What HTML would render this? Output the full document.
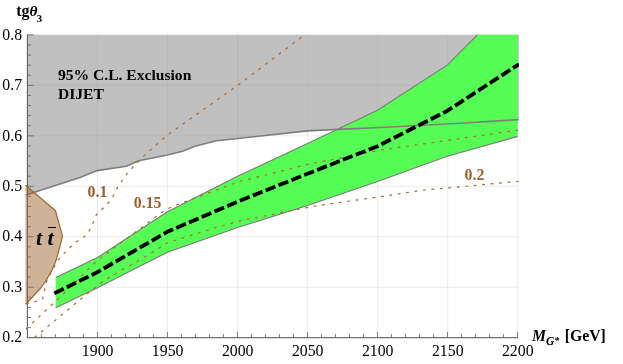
<!DOCTYPE html>
<html><head><meta charset="utf-8"><title>plot</title>
<style>
html,body{margin:0;padding:0;background:#fff;}
body{width:623px;height:364px;position:relative;overflow:hidden;font-family:"Liberation Serif",serif;}
.t{position:absolute;white-space:nowrap;font-family:"Liberation Serif",serif;font-size:15.8px;line-height:1;color:#000;}
.yl{left:0;width:22.1px;text-align:right;}
.xl{width:40px;text-align:center;top:342.8px;}
.b{font-weight:bold;}
.br{color:#9c5f2b;font-weight:bold;font-size:15.8px;}
</style></head><body>
<svg width="623" height="364" viewBox="0 0 623 364" style="position:absolute;left:0;top:0">
<defs><clipPath id="c"><rect x="24" y="34.40" width="494.90" height="303.80"/></clipPath></defs>
<g clip-path="url(#c)">
<polygon points="27.00,34.40 27.00,195.20 80.00,177.50 97.20,170.60 126.25,166.20 138.75,160.70 167.50,155.00 182.50,151.25 195.00,146.25 216.25,140.75 235.75,138.75 307.50,130.90 337.50,129.40 385.75,127.30 463.80,123.00 518.90,119.60 518.90,34.40" fill="#c0c0c0"/>
<line x1="97.53" x2="97.53" y1="34.40" y2="337.70" stroke="rgba(140,140,140,0.17)" stroke-width="1"/>
<line x1="167.55" x2="167.55" y1="34.40" y2="337.70" stroke="rgba(140,140,140,0.17)" stroke-width="1"/>
<line x1="237.58" x2="237.58" y1="34.40" y2="337.70" stroke="rgba(140,140,140,0.17)" stroke-width="1"/>
<line x1="307.60" x2="307.60" y1="34.40" y2="337.70" stroke="rgba(140,140,140,0.17)" stroke-width="1"/>
<line x1="377.62" x2="377.62" y1="34.40" y2="337.70" stroke="rgba(140,140,140,0.17)" stroke-width="1"/>
<line x1="447.65" x2="447.65" y1="34.40" y2="337.70" stroke="rgba(140,140,140,0.17)" stroke-width="1"/>
<line x1="517.68" x2="517.68" y1="34.40" y2="337.70" stroke="rgba(140,140,140,0.17)" stroke-width="1"/>
<line x1="27.40" x2="517.70" y1="287.23" y2="287.23" stroke="rgba(140,140,140,0.17)" stroke-width="1"/>
<line x1="27.40" x2="517.70" y1="236.76" y2="236.76" stroke="rgba(140,140,140,0.17)" stroke-width="1"/>
<line x1="27.40" x2="517.70" y1="186.29" y2="186.29" stroke="rgba(140,140,140,0.17)" stroke-width="1"/>
<line x1="27.40" x2="517.70" y1="135.82" y2="135.82" stroke="rgba(140,140,140,0.17)" stroke-width="1"/>
<line x1="27.40" x2="517.70" y1="85.35" y2="85.35" stroke="rgba(140,140,140,0.17)" stroke-width="1"/>
<polygon points="55.70,277.60 97.50,257.50 167.50,211.70 237.50,176.30 307.50,143.50 377.50,110.30 447.20,65.10 477.90,34.40 517.70,34.40 517.70,136.40 447.20,156.20 377.50,181.50 307.50,205.40 237.50,227.60 167.50,252.15 97.50,287.80 55.70,307.80" fill="#55fd55"/>
<polyline points="55.70,277.60 97.50,257.50 167.50,211.70 237.50,176.30 307.50,143.50 377.50,110.30 447.20,65.10 477.90,34.40" fill="none" stroke="#7a7a7a" stroke-width="1.1"/>
<polyline points="55.70,307.80 97.50,287.80 167.50,252.15 237.50,227.60 307.50,205.40 377.50,181.50 447.20,156.20 517.70,136.40" fill="none" stroke="#7a7a7a" stroke-width="1.1"/>
<polyline points="26.00,195.00 80.00,177.50 97.20,170.60 126.25,166.20 138.75,160.70 167.50,155.00 182.50,151.25 195.00,146.25 216.25,140.75 235.75,138.75 307.50,130.90 337.50,129.40 385.75,127.30 463.80,123.00 518.90,119.60" fill="none" stroke="#7e7e7e" stroke-width="1.6"/>
</g>
</svg>
<svg width="623" height="364" viewBox="0 0 623 364" style="position:absolute;left:0;top:0">
<defs><clipPath id="c2"><rect x="24" y="34.40" width="494.90" height="303.80"/></clipPath></defs>
<line x1="27.40" x2="27.40" y1="34.45" y2="338.20" stroke="#5e5e5e" stroke-width="1.1"/>
<line x1="27.00" x2="518.10" y1="337.70" y2="337.70" stroke="#747474" stroke-width="1.3"/>
<line x1="27.40" x2="31.00" y1="327.61" y2="327.61" stroke="#5e5e5e" stroke-width="0.8"/>
<line x1="27.40" x2="31.00" y1="317.51" y2="317.51" stroke="#5e5e5e" stroke-width="0.8"/>
<line x1="27.40" x2="31.00" y1="307.42" y2="307.42" stroke="#5e5e5e" stroke-width="0.8"/>
<line x1="27.40" x2="31.00" y1="297.32" y2="297.32" stroke="#5e5e5e" stroke-width="0.8"/>
<line x1="27.40" x2="33.70" y1="287.23" y2="287.23" stroke="#5e5e5e" stroke-width="0.8"/>
<line x1="27.40" x2="31.00" y1="277.14" y2="277.14" stroke="#5e5e5e" stroke-width="0.8"/>
<line x1="27.40" x2="31.00" y1="267.04" y2="267.04" stroke="#5e5e5e" stroke-width="0.8"/>
<line x1="27.40" x2="31.00" y1="256.95" y2="256.95" stroke="#5e5e5e" stroke-width="0.8"/>
<line x1="27.40" x2="31.00" y1="246.85" y2="246.85" stroke="#5e5e5e" stroke-width="0.8"/>
<line x1="27.40" x2="33.70" y1="236.76" y2="236.76" stroke="#5e5e5e" stroke-width="0.8"/>
<line x1="27.40" x2="31.00" y1="226.67" y2="226.67" stroke="#5e5e5e" stroke-width="0.8"/>
<line x1="27.40" x2="31.00" y1="216.57" y2="216.57" stroke="#5e5e5e" stroke-width="0.8"/>
<line x1="27.40" x2="31.00" y1="206.48" y2="206.48" stroke="#5e5e5e" stroke-width="0.8"/>
<line x1="27.40" x2="31.00" y1="196.38" y2="196.38" stroke="#5e5e5e" stroke-width="0.8"/>
<line x1="27.40" x2="33.70" y1="186.29" y2="186.29" stroke="#5e5e5e" stroke-width="0.8"/>
<line x1="27.40" x2="31.00" y1="176.20" y2="176.20" stroke="#5e5e5e" stroke-width="0.8"/>
<line x1="27.40" x2="31.00" y1="166.10" y2="166.10" stroke="#5e5e5e" stroke-width="0.8"/>
<line x1="27.40" x2="31.00" y1="156.01" y2="156.01" stroke="#5e5e5e" stroke-width="0.8"/>
<line x1="27.40" x2="31.00" y1="145.91" y2="145.91" stroke="#5e5e5e" stroke-width="0.8"/>
<line x1="27.40" x2="33.70" y1="135.82" y2="135.82" stroke="#5e5e5e" stroke-width="0.8"/>
<line x1="27.40" x2="31.00" y1="125.73" y2="125.73" stroke="#5e5e5e" stroke-width="0.8"/>
<line x1="27.40" x2="31.00" y1="115.63" y2="115.63" stroke="#5e5e5e" stroke-width="0.8"/>
<line x1="27.40" x2="31.00" y1="105.54" y2="105.54" stroke="#5e5e5e" stroke-width="0.8"/>
<line x1="27.40" x2="31.00" y1="95.44" y2="95.44" stroke="#5e5e5e" stroke-width="0.8"/>
<line x1="27.40" x2="33.70" y1="85.35" y2="85.35" stroke="#5e5e5e" stroke-width="0.8"/>
<line x1="27.40" x2="31.00" y1="75.26" y2="75.26" stroke="#5e5e5e" stroke-width="0.8"/>
<line x1="27.40" x2="31.00" y1="65.16" y2="65.16" stroke="#5e5e5e" stroke-width="0.8"/>
<line x1="27.40" x2="31.00" y1="55.07" y2="55.07" stroke="#5e5e5e" stroke-width="0.8"/>
<line x1="27.40" x2="31.00" y1="44.97" y2="44.97" stroke="#5e5e5e" stroke-width="0.8"/>
<line x1="27.40" x2="33.70" y1="34.88" y2="34.88" stroke="#5e5e5e" stroke-width="0.8"/>
<line x1="41.41" x2="41.41" y1="337.70" y2="334.20" stroke="#6c6c6c" stroke-width="0.9"/>
<line x1="55.41" x2="55.41" y1="337.70" y2="334.20" stroke="#6c6c6c" stroke-width="0.9"/>
<line x1="69.41" x2="69.41" y1="337.70" y2="334.20" stroke="#6c6c6c" stroke-width="0.9"/>
<line x1="83.42" x2="83.42" y1="337.70" y2="334.20" stroke="#6c6c6c" stroke-width="0.9"/>
<line x1="97.43" x2="97.43" y1="337.70" y2="332.00" stroke="#6c6c6c" stroke-width="0.9"/>
<line x1="111.43" x2="111.43" y1="337.70" y2="334.20" stroke="#6c6c6c" stroke-width="0.9"/>
<line x1="125.44" x2="125.44" y1="337.70" y2="334.20" stroke="#6c6c6c" stroke-width="0.9"/>
<line x1="139.44" x2="139.44" y1="337.70" y2="334.20" stroke="#6c6c6c" stroke-width="0.9"/>
<line x1="153.44" x2="153.44" y1="337.70" y2="334.20" stroke="#6c6c6c" stroke-width="0.9"/>
<line x1="167.45" x2="167.45" y1="337.70" y2="332.00" stroke="#6c6c6c" stroke-width="0.9"/>
<line x1="181.46" x2="181.46" y1="337.70" y2="334.20" stroke="#6c6c6c" stroke-width="0.9"/>
<line x1="195.46" x2="195.46" y1="337.70" y2="334.20" stroke="#6c6c6c" stroke-width="0.9"/>
<line x1="209.47" x2="209.47" y1="337.70" y2="334.20" stroke="#6c6c6c" stroke-width="0.9"/>
<line x1="223.47" x2="223.47" y1="337.70" y2="334.20" stroke="#6c6c6c" stroke-width="0.9"/>
<line x1="237.48" x2="237.48" y1="337.70" y2="332.00" stroke="#6c6c6c" stroke-width="0.9"/>
<line x1="251.48" x2="251.48" y1="337.70" y2="334.20" stroke="#6c6c6c" stroke-width="0.9"/>
<line x1="265.49" x2="265.49" y1="337.70" y2="334.20" stroke="#6c6c6c" stroke-width="0.9"/>
<line x1="279.49" x2="279.49" y1="337.70" y2="334.20" stroke="#6c6c6c" stroke-width="0.9"/>
<line x1="293.50" x2="293.50" y1="337.70" y2="334.20" stroke="#6c6c6c" stroke-width="0.9"/>
<line x1="307.50" x2="307.50" y1="337.70" y2="332.00" stroke="#6c6c6c" stroke-width="0.9"/>
<line x1="321.50" x2="321.50" y1="337.70" y2="334.20" stroke="#6c6c6c" stroke-width="0.9"/>
<line x1="335.51" x2="335.51" y1="337.70" y2="334.20" stroke="#6c6c6c" stroke-width="0.9"/>
<line x1="349.51" x2="349.51" y1="337.70" y2="334.20" stroke="#6c6c6c" stroke-width="0.9"/>
<line x1="363.52" x2="363.52" y1="337.70" y2="334.20" stroke="#6c6c6c" stroke-width="0.9"/>
<line x1="377.52" x2="377.52" y1="337.70" y2="332.00" stroke="#6c6c6c" stroke-width="0.9"/>
<line x1="391.53" x2="391.53" y1="337.70" y2="334.20" stroke="#6c6c6c" stroke-width="0.9"/>
<line x1="405.54" x2="405.54" y1="337.70" y2="334.20" stroke="#6c6c6c" stroke-width="0.9"/>
<line x1="419.54" x2="419.54" y1="337.70" y2="334.20" stroke="#6c6c6c" stroke-width="0.9"/>
<line x1="433.55" x2="433.55" y1="337.70" y2="334.20" stroke="#6c6c6c" stroke-width="0.9"/>
<line x1="447.55" x2="447.55" y1="337.70" y2="332.00" stroke="#6c6c6c" stroke-width="0.9"/>
<line x1="461.56" x2="461.56" y1="337.70" y2="334.20" stroke="#6c6c6c" stroke-width="0.9"/>
<line x1="475.56" x2="475.56" y1="337.70" y2="334.20" stroke="#6c6c6c" stroke-width="0.9"/>
<line x1="489.56" x2="489.56" y1="337.70" y2="334.20" stroke="#6c6c6c" stroke-width="0.9"/>
<line x1="503.57" x2="503.57" y1="337.70" y2="334.20" stroke="#6c6c6c" stroke-width="0.9"/>
<line x1="517.58" x2="517.58" y1="337.70" y2="332.00" stroke="#6c6c6c" stroke-width="0.9"/>
<polygon points="25.50,185.20 55.50,210.75 62.50,236.30 57.60,255.00 55.75,261.25 52.00,270.00 45.75,281.25 40.75,288.00 30.75,298.75 25.50,304.40" fill="rgba(160,104,52,0.5)" clip-path="url(#c2)"/>
<polyline points="25.50,185.20 55.50,210.75 62.50,236.30 57.60,255.00 55.75,261.25 52.00,270.00 45.75,281.25 40.75,288.00 30.75,298.75 25.50,304.40" fill="none" stroke="#a0642a" stroke-width="1.2" stroke-linejoin="round" clip-path="url(#c2)"/>
<polyline points="26.00,303.70 34.50,301.80 42.60,299.20 44.40,291.00 46.40,281.90 52.40,270.00 58.25,259.75 64.20,253.30 70.00,247.50 76.70,241.70 86.00,235.50 90.50,228.75 96.25,215.00 102.50,208.75 108.75,202.50 113.75,195.00 117.50,187.50 122.50,180.00 127.50,173.00 133.00,167.00 139.50,160.50 145.50,154.50 152.00,148.75 158.25,143.00 167.50,135.00 237.50,85.50 304.50,34.85" fill="none" stroke="#ad6a2f" stroke-width="1.2" stroke-dasharray="2.9 5.6" clip-path="url(#c2)"/>
<polyline points="26.00,329.00 58.90,298.10 83.30,274.20 97.50,260.30 123.30,241.20 137.40,230.75 150.90,220.50 165.10,210.25 172.70,206.30 180.75,203.25 212.50,191.50 237.50,182.10 307.50,164.40 380.00,150.20 518.90,130.00" fill="none" stroke="#ad6a2f" stroke-width="1.2" stroke-dasharray="2.9 5.6" clip-path="url(#c2)"/>
<polyline points="34.50,337.50 81.40,298.50 101.70,282.30 123.75,268.75 140.00,260.00 168.00,242.50 184.50,237.50 217.50,227.00 243.75,220.00 270.00,215.00 312.00,206.50 388.30,195.50 420.00,190.50 518.90,181.25" fill="none" stroke="#ad6a2f" stroke-width="1.2" stroke-dasharray="2.9 5.6" clip-path="url(#c2)"/>
<polyline points="54.30,293.40 97.50,272.10 167.50,231.70 237.50,201.70 307.50,173.75 377.50,146.20 447.20,110.90 519.20,64.00" fill="none" stroke="#000" stroke-width="3.8" stroke-dasharray="10.45 3.4" clip-path="url(#c2)"/>
</svg>
<div id="txt" style="position:absolute;left:0;top:0;width:623px;height:364px;will-change:transform;">
<div class="t yl" style="top:329.42px">0.2</div>
<div class="t yl" style="top:278.95px">0.3</div>
<div class="t yl" style="top:228.48px">0.4</div>
<div class="t yl" style="top:178.01px">0.5</div>
<div class="t yl" style="top:127.54px">0.6</div>
<div class="t yl" style="top:77.07px">0.7</div>
<div class="t yl" style="top:26.60px">0.8</div>
<div class="t xl" style="left:77.63px">1900</div>
<div class="t xl" style="left:147.65px">1950</div>
<div class="t xl" style="left:217.68px">2000</div>
<div class="t xl" style="left:287.70px">2050</div>
<div class="t xl" style="left:357.72px">2100</div>
<div class="t xl" style="left:427.75px">2150</div>
<div class="t xl" style="left:497.78px">2200</div>
<div class="t b" style="left:16.2px;top:3.3px;font-size:16px">tg<i style="font-size:15.2px">&theta;</i><span style="font-size:11.3px;position:relative;top:5.8px;margin-left:-0.9px">3</span></div>
<div class="t b" style="left:57.9px;top:67.3px;font-size:15.6px">95% C.L. Exclusion</div>
<div class="t b" style="left:57.9px;top:85.6px;font-size:15.6px">DIJET</div>
<div class="t br" style="left:87.6px;top:184.1px">0.1</div>
<div class="t br" style="left:133.8px;top:194.8px">0.15</div>
<div class="t br" style="left:464.6px;top:166.8px">0.2</div>
<div class="t b" style="left:36px;top:226.8px;font-size:22px;font-style:italic">t t</div>
<div style="position:absolute;left:47.8px;top:227px;width:8.5px;height:1.4px;background:#000"></div>
<div class="t b" style="left:531.9px;top:328.1px;font-size:15.8px"><i>M</i><span style="font-size:11.5px;position:relative;top:4px;font-style:italic">G<span style="font-size:10px;position:relative;top:-1.5px">*</span></span><span style="margin-left:5.4px">[GeV]</span></div>
</div>
</body></html>
